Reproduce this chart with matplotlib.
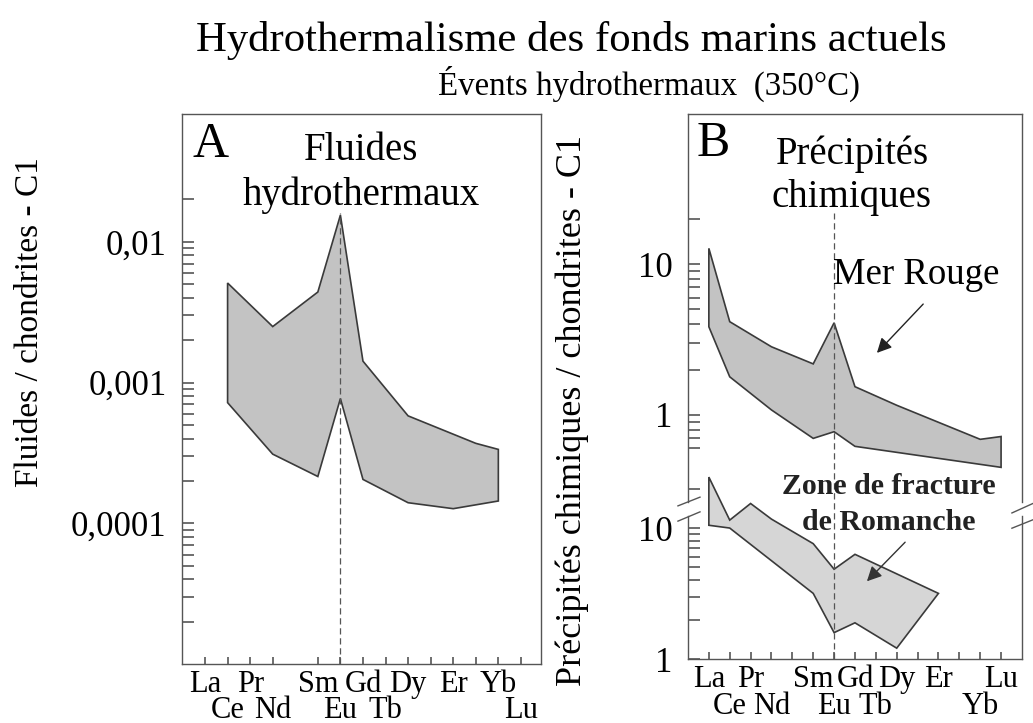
import matplotlib.pyplot as plt
from matplotlib.ticker import LogLocator

plt.rcParams['font.family'] = ['Liberation Serif', 'DejaVu Serif']

elements = ['La', 'Ce', 'Pr', 'Nd', 'Pm', 'Sm', 'Eu', 'Gd', 'Tb', 'Dy', 'Ho', 'Er', 'Tm', 'Yb', 'Lu']
pos = {el: i for i, el in enumerate(elements)}

# A - fluides hydrothermaux (band limits)
fluid_up_el = ['Ce', 'Nd', 'Sm', 'Eu', 'Gd', 'Dy', 'Tm', 'Yb']
fluid_up = [5.1e-3, 2.5e-3, 4.4e-3, 1.55e-2, 1.42e-3, 5.8e-4, 3.7e-4, 3.35e-4]
fluid_lo_el = ['Ce', 'Nd', 'Sm', 'Eu', 'Gd', 'Dy', 'Er', 'Yb']
fluid_lo = [7.2e-4, 3.1e-4, 2.15e-4, 7.7e-4, 2.05e-4, 1.4e-4, 1.27e-4, 1.44e-4]

# B - Mer Rouge
rouge_up_el = ['La', 'Ce', 'Nd', 'Sm', 'Eu', 'Gd', 'Dy', 'Yb', 'Lu']
rouge_up = [12.7, 4.15, 2.83, 2.18, 4.08, 1.54, 1.16, 0.69, 0.72]
rouge_lo_el = ['La', 'Ce', 'Nd', 'Sm', 'Eu', 'Gd', 'Lu']
rouge_lo = [3.84, 1.79, 1.08, 0.70, 0.775, 0.62, 0.45]

# B - Zone de fracture de Romanche
roman_up_el = ['La', 'Ce', 'Pr', 'Nd', 'Sm', 'Eu', 'Gd', 'Er']
roman_up = [24.5, 11.5, 15.4, 11.7, 7.6, 4.85, 6.3, 3.17]
roman_lo_el = ['La', 'Ce', 'Sm', 'Eu', 'Gd', 'Dy', 'Er']
roman_lo = [10.5, 10.0, 3.17, 1.59, 1.89, 1.21, 3.17]

labels_top_A = ['La', 'Pr', 'Sm', 'Gd', 'Dy', 'Er', 'Yb']
labels_bot_A = ['Ce', 'Nd', 'Eu', 'Tb', 'Lu']
blank_A = ['Ho', 'Tm']
labels_top_B = ['La', 'Pr', 'Sm', 'Gd', 'Dy', 'Er', 'Lu']
labels_bot_B = ['Ce', 'Nd', 'Eu', 'Tb', 'Yb']
blank_B = ['Pm', 'Ho', 'Tm']

# labelled decades and the span covered by minor ticks
decades_A = [1e-4, 1e-3, 1e-2]
decade_labels_A = ['0,0001', '0,001', '0,01']
minor_span_A = (1.5e-5, 2.5e-2)
decades_B = [1, 10]
decade_labels_B = ['1', '10']
minor_span_rouge = (0.55, 25)
minor_span_roman = (1.5, 25)

EDGE = '#3a3a3a'
AXC = '#555555'


def band(ax, up_el, up, lo_el, lo, fc):
    xs = [pos[e] for e in up_el] + [pos[e] for e in lo_el][::-1]
    ys = list(up) + list(lo)[::-1]
    ax.fill(xs, ys, facecolor=fc, edgecolor=EDGE, lw=1.2, zorder=2)


def ree_axis(ax, top, bot, blank, pad_top, pad_bot):
    ax.set_xticks([pos[e] for e in top], top)
    ax.set_xticks([pos[e] for e in bot + blank], bot + [''] * len(blank), minor=True)
    ax.tick_params(axis='x', which='both', direction='in', length=5, width=1.2,
                   color=AXC, labelsize=22)
    ax.tick_params(axis='x', which='major', pad=pad_top)
    ax.tick_params(axis='x', which='minor', pad=pad_bot)


def log_ticks(ax, majors, labels, span):
    lo, hi = span
    minors = [v for v in LogLocator(subs=range(2, 10)).tick_values(lo, hi) if lo <= v <= hi]
    ax.set_yticks(majors, labels)
    ax.set_yticks(minors, [''] * len(minors), minor=True)
    ax.tick_params(axis='y', which='both', direction='in', length=8.5, width=1.2,
                   color=AXC, labelsize=25, pad=11)


fig = plt.figure(figsize=(10.33, 7.23), dpi=100)

# ---------- panel A ----------
axA = fig.add_axes([0.1762, 0.0816, 0.3475, 0.7607])
axA.set_yscale('log')
axA.set_xlim(-1.02, 14.89)
band(axA, fluid_up_el, fluid_up, fluid_lo_el, fluid_lo, '#c3c3c3')
axA.axvline(pos['Eu'], ymax=0.82, color='#555555', lw=0.9, ls=(0, (5, 3)), zorder=3)
log_ticks(axA, decades_A, decade_labels_A, minor_span_A)
axA.set_ylim(1e-5, 0.081)
ree_axis(axA, labels_top_A, labels_bot_A, blank_A, 4, 23)
for s in axA.spines.values():
    s.set_color(AXC)
    s.set_linewidth(1.0)
axA.text(0.03, 0.945, 'A', transform=axA.transAxes, fontsize=36, va='center', ha='left')
axA.text(0.5, 0.893, 'Fluides\nhydrothermaux', transform=axA.transAxes, fontsize=28,
         va='center', ha='center', linespacing=1.25)

# ---------- panel B (broken log axis : two scales on the same frame) ----------
rect_B = [0.666, 0.0885, 0.3233, 0.7538]
axB = fig.add_axes(rect_B)
axB.set_yscale('log')
axB.set_xlim(-1, 15)
band(axB, rouge_up_el, rouge_up, rouge_lo_el, rouge_lo, '#c3c3c3')
log_ticks(axB, decades_B, decade_labels_B, minor_span_rouge)
axB.set_ylim(0.0242, 98.5)
ree_axis(axB, labels_top_B, labels_bot_B, blank_B, 4, 24)
for s in axB.spines.values():
    s.set_color(AXC)
    s.set_linewidth(1.0)
axB.spines['left'].set_bounds(0.265, 98.5)
axB.spines['right'].set_bounds(0.265, 98.5)

axB2 = fig.add_axes(rect_B, sharex=axB)
axB2.patch.set_visible(False)
axB2.set_yscale('log')
band(axB2, roman_up_el, roman_up, roman_lo_el, roman_lo, '#d6d6d6')
log_ticks(axB2, decades_B, decade_labels_B, minor_span_roman)
axB2.set_ylim(1, 14500)
axB2.tick_params(axis='x', which='both', bottom=False, labelbottom=False)
for name, s in axB2.spines.items():
    s.set_color(AXC)
    s.set_linewidth(1.0)
    if name in ('top', 'bottom'):
        s.set_visible(False)
axB2.spines['left'].set_bounds(1, 12.4)
axB2.spines['right'].set_bounds(1, 12.4)
axB2.axvline(pos['Eu'], ymax=0.818, color='#555555', lw=0.9, ls=(0, (5, 3)), zorder=3)

# break marks
for x0, x1, y0, y1 in [(-0.03, 0.036, 0.281, 0.297), (-0.03, 0.036, 0.253, 0.270),
                       (0.97, 1.035, 0.268, 0.286), (0.97, 1.035, 0.240, 0.256)]:
    axB2.plot([x0, x1], [y0, y1], transform=axB2.transAxes, color=AXC, lw=1.0,
              clip_on=False)

axB2.text(0.027, 0.945, 'B', transform=axB2.transAxes, fontsize=36, va='center', ha='left')
axB2.text(0.491, 0.887, 'Précipités\nchimiques', transform=axB2.transAxes, fontsize=28,
          va='center', ha='center', linespacing=1.2)
axB2.text(0.683, 0.705, 'Mer Rouge', transform=axB2.transAxes, fontsize=26.5,
          va='center', ha='center')
axB2.annotate('', xy=(0.56, 0.558), xytext=(0.71, 0.655), xycoords='axes fraction',
              arrowprops=dict(arrowstyle='-|>', color='#222222', lw=1.0, mutation_scale=22))
axB2.text(0.602, 0.284, 'Zone de fracture\nde Romanche', transform=axB2.transAxes,
          fontsize=21.5, fontweight='bold', va='center', ha='center', linespacing=1.42,
          color='#222222')
axB2.annotate('', xy=(0.53, 0.139), xytext=(0.656, 0.218), xycoords='axes fraction',
              arrowprops=dict(arrowstyle='-|>', color='#333333', lw=1.0, mutation_scale=22))

# ---------- titles and axis labels ----------
fig.text(571 / 1033, 1 - 40 / 723, 'Hydrothermalisme des fonds marins actuels',
         fontsize=30.8, ha='center', va='center')
fig.text(649 / 1033, 1 - 84 / 723, 'Évents hydrothermaux  (350°C)',
         fontsize=23.7, ha='center', va='center')
fig.text(30 / 1033, 1 - 322 / 723, 'Fluides / chondrites - C1', rotation=90,
         fontsize=24, ha='center', va='center')
fig.text(572 / 1033, 1 - 410 / 723, 'Précipités chimiques / chondrites - C1', rotation=90,
         fontsize=26, ha='center', va='center')

fig.savefig('out.png', dpi=100)
